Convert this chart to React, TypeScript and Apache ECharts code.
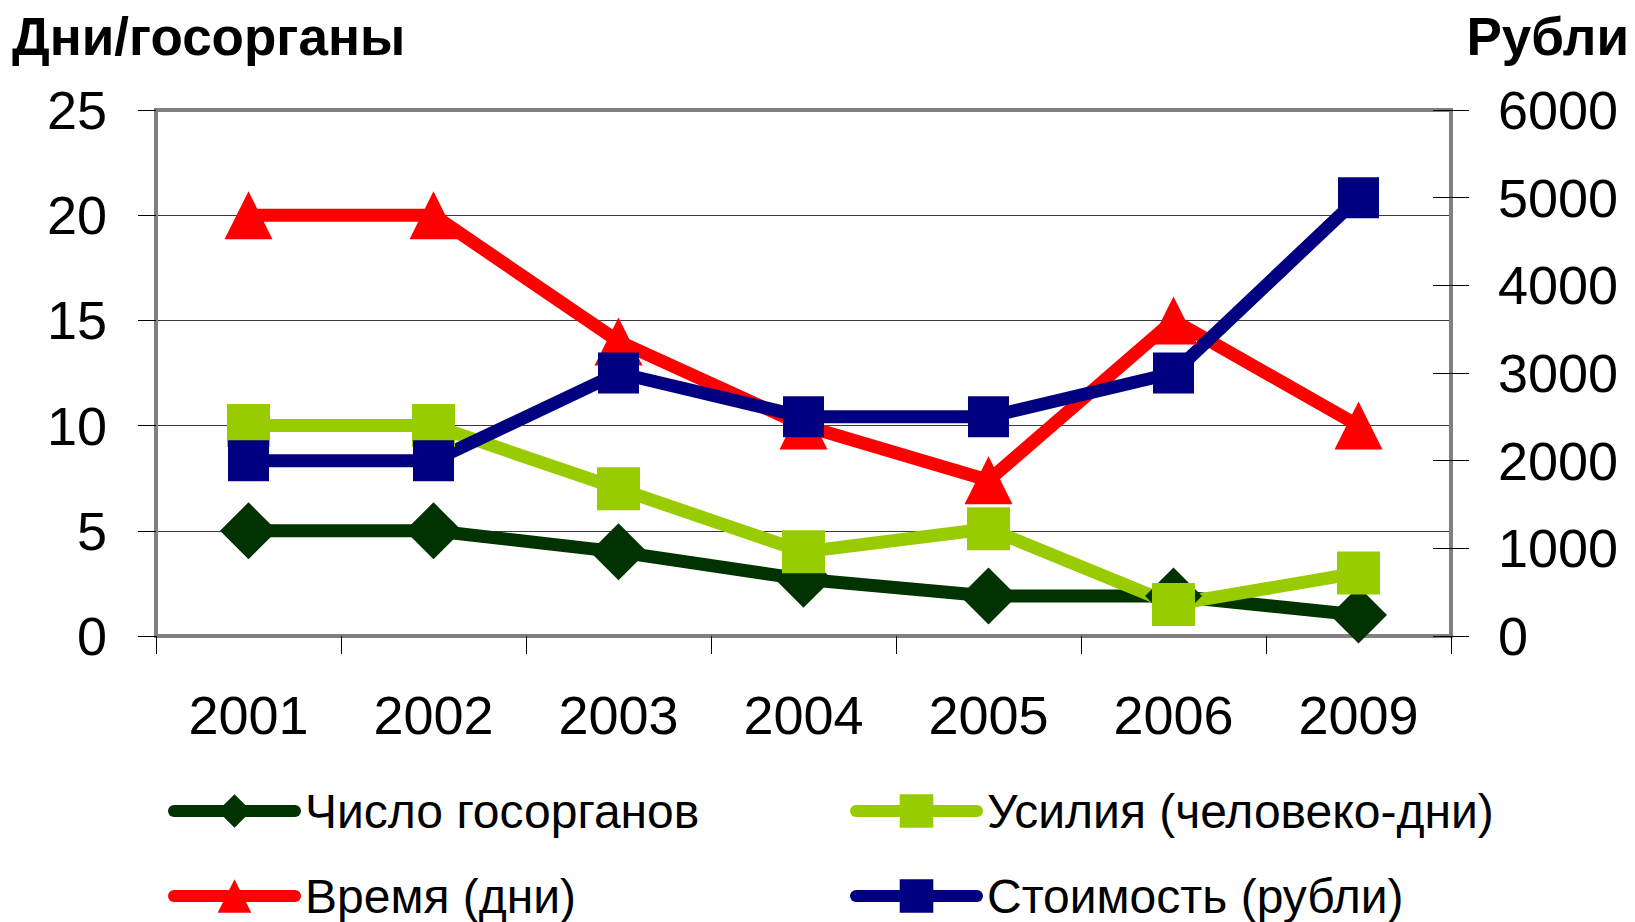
import React, { useEffect, useRef } from 'react';
import * as echarts from 'echarts';

const years = ['2001', '2002', '2003', '2004', '2005', '2006', '2009'];
const agencies = [5, 5, 4, 2.7, 1.9, 1.9, 1];
const effort = [10, 10, 7, 4, 5.1, 1.5, 3];
const timeDays = [20, 20, 14, 10, 7.4, 15, 10];
const costRub = [2000, 2000, 3000, 2500, 2500, 3000, 5000];

const seriesNames = ['Число госорганов', 'Усилия (человеко-дни)', 'Время (дни)', 'Стоимость (рубли)'];
const leftAxisName = 'Дни/госорганы';
const rightAxisName = 'Рубли';
const leftRange = { min: 0, max: 25, interval: 5 };
const rightRange = { min: 0, max: 6000, interval: 1000 };

const FONT = '"Liberation Sans", Arial, sans-serif';

export default function App() {
  const ref = useRef<HTMLDivElement>(null);
  useEffect(() => {
    document.body.style.margin = '0';
    const chart = echarts.init(ref.current!, null, { renderer: 'svg' });
    const lineBase = (color: string) => ({
      type: 'line' as const,
      lineStyle: { color, width: 13 },
      itemStyle: { color },
    });
    const legendAt = (name: string, left: number, top: number) => ({
      orient: 'horizontal', left, top, padding: 0, itemWidth: 121, itemHeight: 42,
      data: [name],
      textStyle: { fontSize: 48, color: '#000', fontFamily: FONT, padding: [0, 0, 0, 5] },
      lineStyle: { width: 12, cap: 'round' },
    });
    chart.setOption({
      animation: false,
      backgroundColor: '#ffffff',
      textStyle: { fontFamily: FONT },
      grid: {
        left: 156, right: 184, top: 110, bottom: 286, containLabel: false,
        show: true, borderColor: '#808080', borderWidth: 4, backgroundColor: 'transparent',
      },
      legend: [
        legendAt(seriesNames[0], 168, 787),
        legendAt(seriesNames[2], 168, 872),
        legendAt(seriesNames[1], 850, 787),
        legendAt(seriesNames[3], 850, 872),
      ],
      xAxis: {
        type: 'category', data: years, boundaryGap: true,
        axisLine: { lineStyle: { color: '#808080', width: 4 } },
        axisTick: { show: true, length: 18, lineStyle: { color: '#000', width: 1 } },
        axisLabel: { fontSize: 54, color: '#000', margin: 52, fontFamily: FONT },
        splitLine: { show: false },
      },
      yAxis: [
        {
          type: 'value', position: 'left', ...leftRange,
          axisLine: { show: true, lineStyle: { color: '#808080', width: 4 } },
          axisTick: { show: true, length: 18, lineStyle: { color: '#000', width: 1 } },
          axisLabel: { fontSize: 54, color: '#000', margin: 49, fontFamily: FONT },
          splitLine: { show: true, showMinLine: false, showMaxLine: false, lineStyle: { color: '#3a3a3a', width: 1 } },
        },
        {
          type: 'value', position: 'right', ...rightRange,
          axisLine: { show: true, lineStyle: { color: '#808080', width: 4 } },
          axisTick: { show: true, length: 18, lineStyle: { color: '#000', width: 1 } },
          axisLabel: { fontSize: 54, color: '#000', margin: 47, fontFamily: FONT, formatter: (v: number) => String(v) },
          splitLine: { show: false },
        },
        {
          type: 'value', position: 'right', ...rightRange,
          axisLine: { show: false },
          axisTick: { show: true, inside: true, length: 18, lineStyle: { color: '#000', width: 1 } },
          axisLabel: { show: false },
          splitLine: { show: false },
        },
      ],
      graphic: [
        { type: 'text', left: 12, top: 10, style: { text: leftAxisName, font: `bold 53px ${FONT}`, fill: '#000' } },
        { type: 'text', right: 6, top: 10, style: { text: rightAxisName, font: `bold 53px ${FONT}`, fill: '#000' } },
      ],
      series: [
        { ...lineBase('#003300'), name: seriesNames[0], yAxisIndex: 0, data: agencies, symbol: 'diamond', symbolSize: 57 },
        { ...lineBase('#99cc00'), name: seriesNames[1], yAxisIndex: 0, data: effort, symbol: 'rect', symbolSize: 43 },
        { ...lineBase('#ff0000'), name: seriesNames[2], yAxisIndex: 0, data: timeDays, symbol: 'triangle', symbolSize: 48 },
        { ...lineBase('#000080'), name: seriesNames[3], yAxisIndex: 1, data: costRub, symbol: 'rect', symbolSize: 41 },
      ],
    });
    return () => chart.dispose();
  }, []);
  return <div ref={ref} style={{ width: 1635, height: 922 }} />;
}
